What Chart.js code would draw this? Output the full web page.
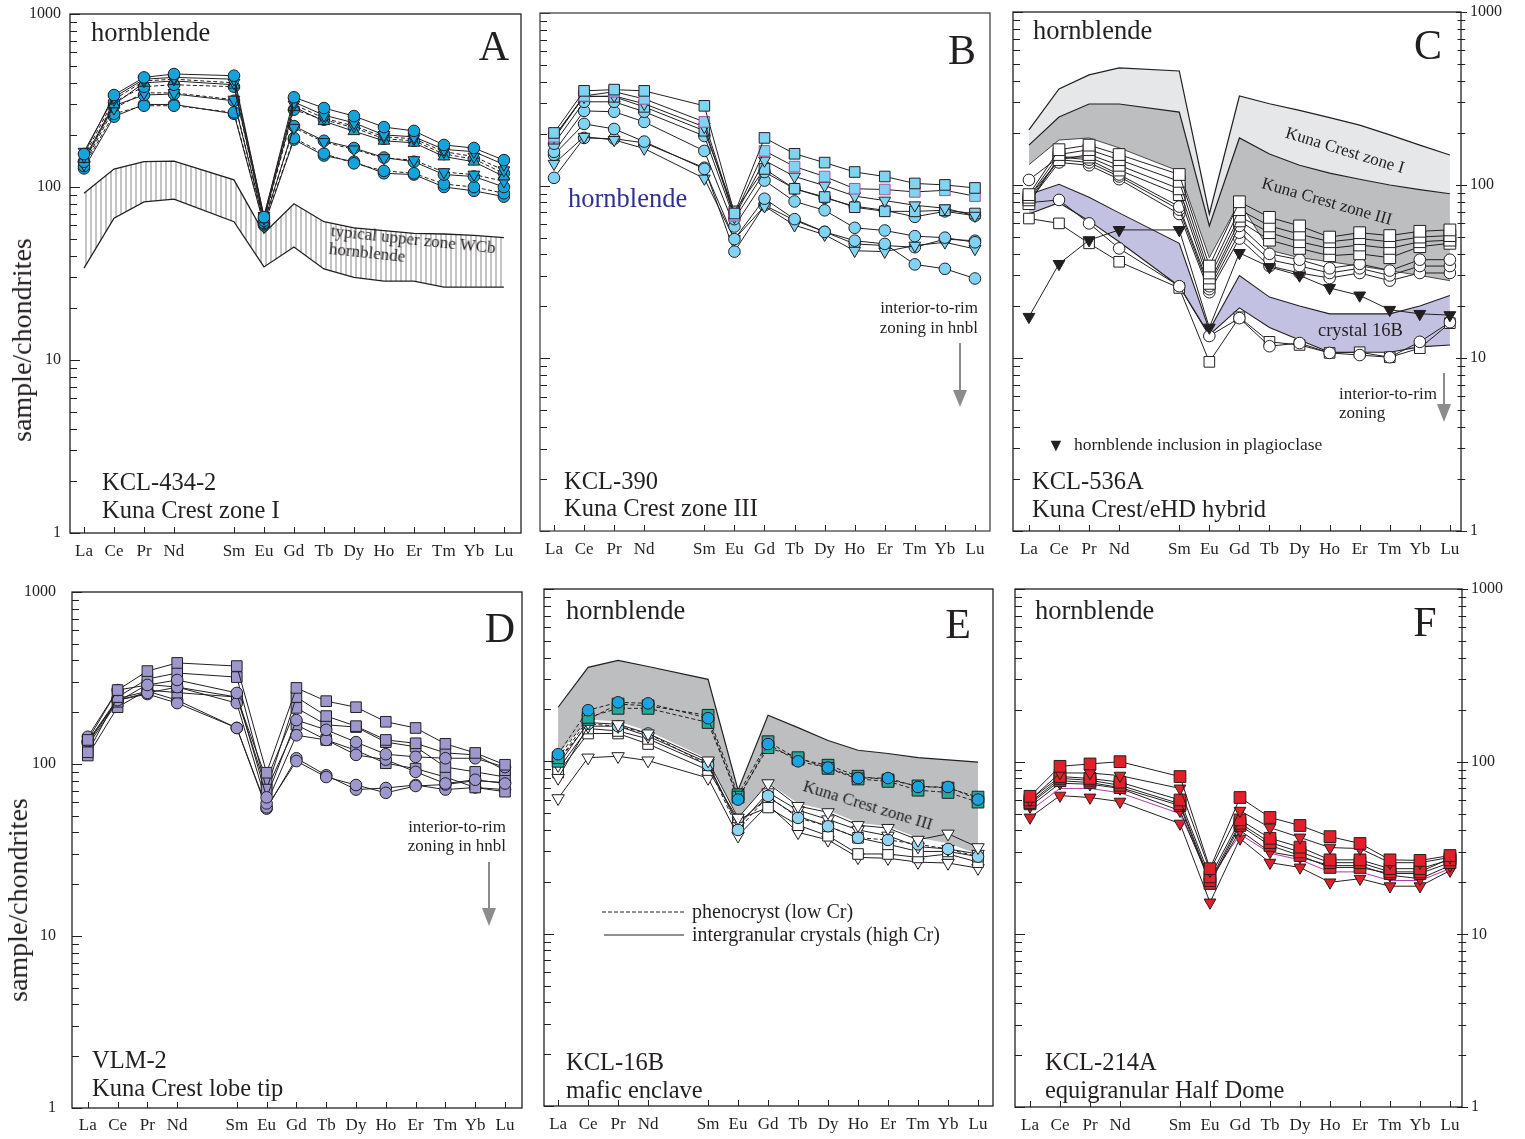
<!DOCTYPE html>
<html>
<head>
<meta charset="utf-8">
<script src="https://cdn.jsdelivr.net/npm/chart.js@4.4.0/dist/chart.umd.min.js"></script>
<style>
  body { margin:0; background:#fff; width:1525px; height:1139px; position:relative; overflow:hidden;
         font-family:"Liberation Serif","Times New Roman",serif; color:#231f20; }
  canvas { position:absolute; }
  .t { position:absolute; white-space:nowrap; line-height:1; transform:translateY(-50%); }
  .r { position:absolute; white-space:nowrap; line-height:1; transform:translate(-100%,-50%); text-align:right; }
  .c { position:absolute; white-space:nowrap; line-height:1; transform:translate(-50%,-50%); }
  svg { position:absolute; left:0; top:0; }
</style>
</head>
<body>

<!-- annotations -->
<div class="c" style="left:22px;top:340px;font-size:28px;transform:translate(-50%,-50%) rotate(-90deg)">sample/chondrites</div>
<div class="c" style="left:18px;top:900px;font-size:28px;transform:translate(-50%,-50%) rotate(-90deg)">sample/chondrites</div>

<div class="t" style="left:91px;top:32px;font-size:26.5px">hornblende</div>
<div class="c" style="left:494px;top:46px;font-size:42px">A</div>
<div class="t" style="left:330px;top:240px;font-size:17px;line-height:18px;transform:translateY(-50%) rotate(6deg);transform-origin:0 50%">typical upper zone WCb<br>hornblende</div>
<div class="t" style="left:102px;top:482px;font-size:24.5px">KCL-434-2</div>
<div class="t" style="left:102px;top:510px;font-size:24.5px">Kuna Crest zone I</div>

<div class="c" style="left:962px;top:50px;font-size:42px">B</div>
<div class="t" style="left:568px;top:198px;font-size:26.5px;color:#2e3192">hornblende</div>
<div class="r" style="left:978px;top:307px;font-size:17px">interior-to-rim</div>
<div class="r" style="left:978px;top:327px;font-size:17px">zoning in hnbl</div>
<div class="t" style="left:564px;top:481px;font-size:24.5px">KCL-390</div>
<div class="t" style="left:564px;top:508px;font-size:24.5px">Kuna Crest zone III</div>

<div class="t" style="left:1033px;top:30px;font-size:26.5px">hornblende</div>
<div class="c" style="left:1428px;top:45px;font-size:42px">C</div>
<div class="c" style="left:1345px;top:150px;font-size:17px;transform:translate(-50%,-50%) rotate(17deg)">Kuna Crest zone I</div>
<div class="c" style="left:1327px;top:201px;font-size:17px;transform:translate(-50%,-50%) rotate(16deg)">Kuna Crest zone III</div>
<div class="t" style="left:1318px;top:330px;font-size:18.5px">crystal 16B</div>
<div class="t" style="left:1339px;top:393px;font-size:17px">interior-to-rim</div>
<div class="t" style="left:1339px;top:412px;font-size:17px">zoning</div>
<div class="t" style="left:1047px;top:445px;font-size:18px">&#9660;</div>
<div class="t" style="left:1074px;top:445px;font-size:17.5px">hornblende inclusion in plagioclase</div>
<div class="t" style="left:1032px;top:481px;font-size:24.5px">KCL-536A</div>
<div class="t" style="left:1032px;top:509px;font-size:24.5px">Kuna Crest/eHD hybrid</div>

<div class="c" style="left:500px;top:628px;font-size:42px">D</div>
<div class="r" style="left:506px;top:826px;font-size:17px">interior-to-rim</div>
<div class="r" style="left:506px;top:845px;font-size:17px">zoning in hnbl</div>
<div class="t" style="left:92px;top:1060px;font-size:24.5px">VLM-2</div>
<div class="t" style="left:92px;top:1088px;font-size:24.5px">Kuna Crest lobe tip</div>

<div class="t" style="left:566px;top:610px;font-size:26.5px">hornblende</div>
<div class="c" style="left:958px;top:624px;font-size:42px">E</div>
<div class="c" style="left:868px;top:805px;font-size:17px;transform:translate(-50%,-50%) rotate(17deg)">Kuna Crest zone III</div>
<div class="t" style="left:692px;top:911px;font-size:20px">phenocryst (low Cr)</div>
<div class="t" style="left:692px;top:934px;font-size:20px">intergranular crystals (high Cr)</div>
<div class="t" style="left:566px;top:1062px;font-size:24.5px">KCL-16B</div>
<div class="t" style="left:566px;top:1090px;font-size:24.5px">mafic enclave</div>

<div class="t" style="left:1035px;top:610px;font-size:26.5px">hornblende</div>
<div class="c" style="left:1425px;top:622px;font-size:42px">F</div>
<div class="t" style="left:1045px;top:1062px;font-size:24.5px">KCL-214A</div>
<div class="t" style="left:1045px;top:1090px;font-size:24.5px">equigranular Half Dome</div>

<script>
// x positions of the rare earths (Pm left out, so a gap after Nd)
const REE = ['La','Ce','Pr','Nd','Sm','Eu','Gd','Tb','Dy','Ho','Er','Tm','Yb','Lu'];
const reeX = [0, 1, 2, 3, 5, 6, 7, 8, 9, 10, 11, 12, 13, 14];
const yLabels = [1, 10, 100, 1000];

// A - KCL-434-2
const aTop1 = [155, 340, 430, 450, 440, 67, 330, 286, 257, 222, 211, 175, 168, 143];
const aTop2 = [160, 330, 420, 430, 420, 68, 310, 260, 235, 200, 195, 165, 160, 135];
const aTop3 = [150, 320, 410, 420, 400, 66, 300, 250, 225, 195, 190, 160, 150, 125];
const aTop4 = [145, 300, 400, 410, 390, 65, 290, 240, 210, 185, 180, 150, 140, 115];
const aTop5 = [140, 310, 380, 390, 380, 64, 280, 245, 220, 190, 185, 155, 145, 120];
const aMid1 = [140, 295, 340, 345, 315, 62, 225, 185, 168, 148, 140, 118, 115, 100];
const aMid2 = [135, 285, 350, 350, 320, 63, 220, 182, 165, 147, 143, 122, 118, 108];
const aLow1 = [128, 255, 300, 300, 265, 60, 188, 152, 140, 120, 118, 100, 95, 88];
const aLow2 = [132, 265, 295, 295, 270, 61, 192, 156, 137, 124, 120, 104, 100, 92];
const aBandHi = [92, 127, 140, 141, 110, 54, 80, 63, 58, 56, 54, 53.5, 52.5, 51];
const aBandLo = [34, 66, 82, 85, 63, 34.5, 45, 33.6, 30, 28.6, 28.6, 26.4, 26.4, 26.4];

// B - KCL-390
const b1 = [202, 354, 360, 354, 290, 69, 189, 153, 136, 120, 113, 103, 101, 97];
const b2 = [192, 331, 350, 318, 234, 67, 159, 129, 113, 96, 95, 92, 94, 87];
const b3 = [192, 327, 331, 298, 219, 66, 140, 113, 100, 87, 82, 77, 74, 67];
const b4 = [187, 331, 327, 286, 208, 71, 125, 96, 86, 75, 71, 71, 72, 69];
const b5 = [175, 306, 306, 268, 194, 64, 120, 96, 85, 76, 72, 66, 71, 67];
const b6 = [157, 271, 268, 234, 159, 58, 107, 81, 72, 57, 55, 51, 50, 47];
const b7 = [151, 228, 213, 180, 125, 49, 84, 64, 54, 48, 46, 35, 33, 29];
const b8 = [134, 192, 184, 164, 110, 49, 76, 59, 52, 42, 41.5, 45, 47, 43];
const b9 = [111, 189, 187, 177, 127, 41.5, 77, 63, 54, 46, 45, 44, 49, 48];

// C - KCL-536A
const cZ1Hi = [208, 359, 433, 475, 456, 68, 327, 295, 270, 245, 222, 195, 170, 149];
const cZ1Lo = [170, 247, 294, 294, 264, 58, 187, 151, 130, 117, 108, 100, 94, 89];
const cZ3Lo = [131, 182, 187, 164, 120, 38, 80, 42, 38, 36, 34, 32, 30, 28];
const c16Hi = [88, 101, 85, 69, 46, 14.5, 30, 22.5, 20, 18, 18, 18, 20, 23];
const c16Lo = [68, 79, 62, 47, 26, 13.6, 19.5, 15, 12.7, 10.8, 10.8, 10.8, 11.6, 11.9];
const cSq1 = [88, 160, 170, 150, 115, 34, 80, 65, 58, 50, 53, 51, 54, 55];
const cSq2 = [85, 150, 160, 140, 105, 31, 72, 58, 52, 47, 49, 47, 50, 51];
const cSq3 = [82, 140, 150, 130, 95, 29, 66, 53, 47, 43, 45, 43, 47, 48];
const cSq4 = [78, 145, 145, 122, 88, 27, 62, 48, 43, 39, 40, 38, 44, 46];
const cCi1 = [107, 145, 140, 115, 75, 26, 58, 40, 37, 33, 35, 32, 37, 37];
const cCi2 = [85, 140, 135, 112, 72, 25, 53, 37, 34, 31, 33, 30, 34, 34];
const cCi3 = [80, 135, 130, 108, 68, 24, 49, 34, 31, 29, 31, 28, 31, 31];
const cInc = [17.3, 35, 48, 55, 55, 15, 40.5, 33.6, 30, 25.4, 23, 19, 18, 17.7];
const cCi16 = [79, 82, 60, 43, 26, 13.4, 17, 11.7, 12.2, 10.7, 10.4, 10.1, 12.4, 16.1];
const cSq16 = [64, 60, 46, 36, 25.4, 9.5, 17.2, 12.4, 11.9, 10.7, 10.8, 10.1, 11.4, 15.9];

// D - VLM-2
const dSq1 = [138, 269, 347, 387, 371, 89, 277, 232, 214, 176, 162, 131, 116, 99];
const dSq2 = [117, 245, 312, 338, 320, 71, 245, 190, 166, 138, 132, 116, 113, 92];
const dSq3 = [128, 230, 290, 280, 245, 81, 212, 169, 164, 134, 126, 96, 90, 84];
const dSq4 = [112, 214, 269, 260, 245, 71, 169, 138, 120, 101, 94, 84, 73, 69];
const dCi1 = [144, 269, 288, 308, 259, 64, 180, 158, 134, 114, 110, 108, 108, 96];
const dCi2 = [136, 235, 259, 280, 226, 59, 147, 138, 113, 106, 90, 77, 81, 77];
const dCi3 = [132, 235, 255, 226, 162, 56, 104, 84, 75.5, 68, 74.5, 76, 80, 78];
const dCi4 = [135, 240, 265, 235, 162, 55, 108, 86, 71, 72.5, 75.5, 71, 73, 71];

// E - KCL-16B
const eBandHi = [206, 351, 385, 355, 299, 68, 185, 157, 132, 116, 111, 105, 102, 99];
const eBandLo = [110, 175, 170, 150, 103, 47, 75, 57, 52, 44, 42, 36, 33.5, 29];
const eCi1 = [110, 198, 220, 217, 178, 60, 126, 100, 92, 80, 80, 71, 71, 60];
const eSq1 = [105, 180, 203, 203, 168, 62, 120, 105, 91, 79, 76.5, 68, 66, 58];
const eSq2 = [100, 175, 215, 210, 185, 64, 130, 103, 95, 82, 78, 72, 70, 62];
const eCiL = [100, 165, 160, 145, 95, 40, 63, 47, 42, 36, 35, 33, 31, 28];
const eTr1 = [95, 168, 164, 145, 101, 47, 74.5, 55, 50.6, 42.6, 41, 35, 38, 31.7];
const eSq3 = [86, 145, 145, 126, 89, 46, 54, 42.6, 37, 29, 29, 27.7, 29, 26];
const eSq4 = [90, 155, 150, 135, 95, 44, 62, 48, 42, 36, 33, 30, 30, 28];
const eTr2 = [80, 160, 160, 140, 98, 42, 66, 52, 46, 40, 37, 32, 31, 29];
const eTr3 = [61, 105, 107, 101, 80, 37, 56, 38.7, 35, 27.7, 27.4, 26, 25.7, 24];

// F - KCL-214A
const fSq1 = [63, 94, 97, 100, 82, 24, 62, 47.5, 42.7, 36.8, 33.6, 27, 26.8, 28.6];
const fTr1 = [60, 86, 86, 83, 70, 23.4, 52, 41.5, 36.4, 31.8, 31.4, 26, 26, 27.9];
const fSq3 = [60, 82, 80, 76, 60, 21.5, 46, 36, 32, 27, 27, 24, 24, 27];
const fSq4 = [58, 80, 78, 73, 57, 20.5, 44, 34, 30, 26, 26, 23, 23, 27.5];
const fSq2 = [57, 77.6, 75.7, 70.8, 55.7, 19.7, 42.7, 32.7, 28.6, 24.4, 24.4, 22.5, 22.5, 26];
const fTr3 = [55, 75, 74, 70, 52, 20, 40, 30, 28, 25, 25, 22, 21, 25];
const fMag = [52, 70, 70, 66, 50, 21, 38, 29.5, 27, 23, 23, 20.5, 20.5, 24];
const fTr2 = [47.5, 63.6, 62, 58.7, 43.8, 15.3, 35.9, 26, 24.4, 20, 21, 19, 19, 23.4];

const ink = '#231f20';
const xFont = {family: 'Liberation Serif', size: 17};
const yFont = {family: 'Liberation Serif', size: 16};

function pts(vals) {
  return vals.map((v, i) => ({x: reeX[i], y: v}));
}

// one sample line with its markers
function ser(vals, mark, color, dash, extra) {
  const shape = {o: 'circle', s: 'rect', v: 'triangle', '^': 'triangle'}[mark];
  return Object.assign({
    data: pts(vals),
    borderColor: ink, borderWidth: 1, borderDash: dash ? [4, 2.5] : [],
    pointStyle: shape, pointRotation: mark === 'v' ? 180 : 0,
    pointRadius: mark === 's' ? 7.5 : mark === 'o' ? 5.8 : 6.8,
    pointBackgroundColor: color, pointBorderColor: ink, pointBorderWidth: 1,
    fill: false
  }, extra || {});
}

// shaded field between two outlines
function band(hi, lo, color, lineW) {
  return [
    {data: pts(hi), borderColor: ink, borderWidth: lineW, pointRadius: 0, fill: '+1', backgroundColor: color},
    {data: pts(lo), borderColor: ink, borderWidth: lineW, pointRadius: 0, fill: false}
  ];
}

// vertical hatch for the WCb field
const hatch = (function() {
  const c = document.createElement('canvas');
  c.width = 5; c.height = 4;
  const g = c.getContext('2d');
  g.fillStyle = '#fff'; g.fillRect(0, 0, 5, 4);
  g.fillStyle = '#c4c4c4'; g.fillRect(0, 0, 2, 4);
  return g.createPattern(c, 'repeat');
})();

// box frame and inward ticks
const frame = {
  id: 'frame',
  afterDraw(chart, args, o) {
    const {ctx, chartArea: a, scales: {x, y}} = chart;
    ctx.save();
    ctx.strokeStyle = ink;
    ctx.lineWidth = 1;
    const seg = (x1, y1, x2, y2) => { ctx.beginPath(); ctx.moveTo(x1, y1); ctx.lineTo(x2, y2); ctx.stroke(); };
    for (let d = 1; d <= 1000; d *= 10) {
      for (let k = 1; k <= 9; k++) {
        const v = d * k;
        if (v > 1000) break;
        const py = Math.round(y.getPixelForValue(v)) + 0.5;
        const len = k === 1 ? 10 : 7;
        seg(a.left, py, a.left + len, py);
        if (o.right) seg(a.right - len * 0.5, py, a.right + len * 0.6, py);
      }
    }
    reeX.forEach(p => {
      const px = Math.round(x.getPixelForValue(p)) + 0.5;
      seg(px, a.bottom, px, a.bottom - 6);
    });
    ctx.lineWidth = 1.3;
    ctx.strokeStyle = o.frameColor || ink;
    ctx.strokeRect(a.left, a.top, a.right - a.left, a.bottom - a.top);
    ctx.restore();
  }
};

function makeChart(p, datasets) {
  const right = p.side === 'right';
  const cv = document.createElement('canvas');
  cv.width = p.r - p.l + 130;
  cv.height = p.b - p.t + 70;
  cv.style.left = (p.l - 70) + 'px';
  cv.style.top = (p.t - 30) + 'px';
  document.body.insertBefore(cv, document.body.firstChild);
  return new Chart(cv, {
    type: 'line',
    data: {datasets: datasets},
    options: {
      responsive: false, animation: false, events: [],
      layout: {padding: {top: 30, left: right ? 70 : 0, right: right ? 0 : 60, bottom: 0}},
      elements: {line: {tension: 0}},
      plugins: {
        legend: {display: false}, tooltip: {enabled: false},
        filler: {drawTime: 'beforeDatasetsDraw'},
        frame: {right: right, frameColor: p.frameColor}
      },
      scales: {
        x: {
          type: 'linear', min: p.x0, max: p.x1,
          grid: {display: false, drawTicks: false}, border: {display: false},
          afterBuildTicks: s => { s.ticks = reeX.map(v => ({value: v})); },
          afterFit: s => { s.height = 40; },
          ticks: {autoSkip: false, maxRotation: 0, padding: p.xpad, font: xFont, color: ink,
                  callback: v => REE[reeX.indexOf(v)]}
        },
        y: {
          type: 'logarithmic', position: right ? 'right' : 'left', min: 1, max: 1000,
          grid: {display: false, drawTicks: false}, border: {display: false},
          afterBuildTicks: s => { s.ticks = yLabels.map(v => ({value: v})); },
          afterFit: s => { s.width = right ? 60 : 70; },
          ticks: {display: p.ylab, padding: p.ypad, font: yFont, color: ink,
                  callback: v => String(v)}
        }
      }
    },
    plugins: [frame]
  });
}

const blueA = '#14a4dd', blueB = '#80d3f2', lav = '#9c98cd', blueE = '#18a4e2',
      tealE = '#26a89c', lightE = '#8fd5f2', redF = '#e3202a';
const bigSq = {pointRadius: 8.3};
const bigTr = {pointRadius: 7.2};

makeChart({l: 70, t: 14, r: 521, b: 533, x0: -0.467, x1: 14.57, side: 'left', ylab: true, ypad: 9, xpad: 8}, [
  ser(aTop1, 'o', blueA), ser(aTop2, 'v', blueA), ser(aTop3, 'v', blueA, true), ser(aTop4, '^', blueA),
  ser(aTop5, 'o', blueA, true), ser(aMid2, 'v', blueA, true), ser(aMid1, 'o', blueA),
  ser(aLow2, 'o', blueA, true), ser(aLow1, 'o', blueA),
  ...band(aBandHi, aBandLo, hatch, 1.3)
]);

makeChart({l: 540, t: 13, r: 990, b: 531, x0: -0.466, x1: 14.5, side: 'left', ylab: false, ypad: 9, xpad: 8, frameColor: '#444'}, [
  ser(b1, 's', blueB), ser(b2, 's', blueB, false, {pointBorderColor: '#b8479a'}), ser(b3, 'v', blueB),
  ser(b4, 's', blueB), ser(b5, 'o', blueB), ser(b6, 'o', blueB), ser(b7, 'o', blueB),
  ser(b8, 'v', blueB), ser(b9, 'o', blueB)
]);

makeChart({l: 1013, t: 12, r: 1461, b: 531, x0: -0.53, x1: 14.37, side: 'right', ylab: true, ypad: 9, xpad: 8}, [
  ser(cInc, 'v', ink),
  ser(cSq1, 's', '#fff', false, bigSq), ser(cSq2, 's', '#fff', false, bigSq),
  ser(cSq3, 's', '#fff', false, bigSq), ser(cSq4, 's', '#fff', false, bigSq),
  ser(cCi1, 'o', '#fff'), ser(cCi2, 'o', '#fff'), ser(cCi3, 'o', '#fff'),
  ser(cCi16, 'o', '#fff'), ser(cSq16, 's', '#fff'),
  ...band(c16Hi, c16Lo, '#c3c1e1', 1.1),
  {data: pts(cZ1Hi), borderColor: ink, borderWidth: 1.2, pointRadius: 0, fill: '+1', backgroundColor: '#e6e7e8'},
  {data: pts(cZ1Lo), borderColor: ink, borderWidth: 1.2, pointRadius: 0, fill: '+1', backgroundColor: '#bcbec0'},
  {data: pts(cZ3Lo), borderColor: ink, borderWidth: 0.8, pointRadius: 0, fill: false}
]);

makeChart({l: 72, t: 592, r: 522, b: 1108, x0: -0.53, x1: 14.57, side: 'left', ylab: true, ypad: 16, xpad: 7}, [
  ser(dSq1, 's', lav), ser(dCi1, 'o', lav), ser(dSq2, 's', lav), ser(dCi2, 'o', lav),
  ser(dSq3, 's', lav), ser(dSq4, 's', lav), ser(dCi3, 'o', lav), ser(dCi4, 'o', lav)
]);

makeChart({l: 544, t: 589, r: 993, b: 1106, x0: -0.47, x1: 14.5, side: 'left', ylab: false, ypad: 9, xpad: 8}, [
  ser(eCi1, 'o', blueE, true), ser(eSq1, 's', tealE, true, bigSq), ser(eSq2, 's', tealE, true, bigSq),
  ser(eTr1, 'v', '#fff', false, bigTr), ser(eCiL, 'o', lightE, true), ser(eTr2, 'v', '#fff', false, bigTr),
  ser(eSq4, 's', '#fff'), ser(eSq3, 's', '#fff'), ser(eTr3, 'v', '#fff', false, bigTr),
  {data: pts(eBandHi), borderColor: ink, borderWidth: 1.2, pointRadius: 0, fill: '+1', backgroundColor: '#bcbec0'},
  {data: pts(eBandLo), borderColor: 'rgba(0,0,0,0)', borderWidth: 0, pointRadius: 0, fill: false}
]);

makeChart({l: 1015, t: 589, r: 1462, b: 1107, x0: -0.5, x1: 14.4, side: 'right', ylab: true, ypad: 9, xpad: 8}, [
  ser(fSq1, 's', redF, false, bigSq), ser(fTr1, 'v', redF), ser(fSq3, 's', redF, false, bigSq),
  ser(fSq4, 's', redF, false, bigSq), ser(fSq2, 's', redF, false, bigSq), ser(fTr3, 'v', redF),
  {data: pts(fMag), borderColor: '#b03aa8', borderWidth: 1, pointRadius: 0, fill: false},
  ser(fTr2, 'v', redF)
]);
</script>

<svg width="1525" height="1139">
  <line x1="960" y1="343" x2="960" y2="392" stroke="#8c8c8c" stroke-width="2"/>
  <polygon points="953,390 967,390 960,407" fill="#8c8c8c"/>
  <line x1="1444" y1="373" x2="1444" y2="406" stroke="#8c8c8c" stroke-width="2"/>
  <polygon points="1437,404 1451,404 1444,422" fill="#8c8c8c"/>
  <line x1="489" y1="862" x2="489" y2="910" stroke="#8c8c8c" stroke-width="2"/>
  <polygon points="482,908 496,908 489,926" fill="#8c8c8c"/>
  <line x1="602" y1="912" x2="684" y2="912" stroke="#231f20" stroke-width="1" stroke-dasharray="4,2"/>
  <line x1="604" y1="935" x2="684" y2="935" stroke="#231f20" stroke-width="1"/>
</svg>
</body>
</html>
